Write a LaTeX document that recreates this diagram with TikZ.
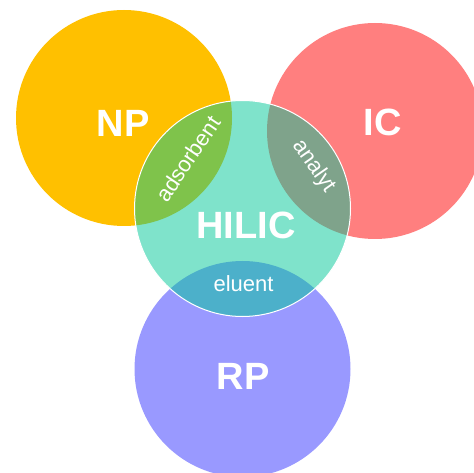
\documentclass[tikz,border=0pt]{standalone}
\usepackage{fontspec}
\setmainfont{Liberation Sans}
\usetikzlibrary{positioning}
\definecolor{cnp}{HTML}{FFC000}
\definecolor{cic}{HTML}{FF7F7F}
\definecolor{crp}{HTML}{9999FF}
\definecolor{chilic}{HTML}{00C797}
\tikzset{
  blob/.style={circle, fill=#1, draw=none, minimum size=216pt, inner sep=0pt},
  big/.style={text=white, font=\fontsize{38}{40}\selectfont\bfseries},
  small/.style={text=white, font=\fontsize{22}{24}\selectfont},
}

\begin{document}
\begin{tikzpicture}[x=1pt, y=-1pt]
  \useasboundingbox (0,0) rectangle (474,473);
  \clip (0,0) rectangle (474,473);
  % outer circles
  \node[blob=cnp] (np) at (124,118) {};
  \node[blob=cic] (ic) at (375,131) {};
  \node[blob=crp] (rp) at (242.5,369) {};
  % HILIC on top, half see-through
  \node[blob=chilic, fill opacity=0.5, draw=white, line width=1pt] (hilic) at (242.5,208.5) {};
  % labels
  \node[big] (npname) at (123,123.5) {NP};
  \node[big] (icname) at (382.5,122) {IC};
  \node[big] (hilicname) at (246,225.5) {HILIC};
  \node[big] (rpname) at (243,376) {RP};
  \node[small, anchor=base] (eluent) at (243.5,291) {eluent};
  \node[small, rotate=56] (adsorbent) at (188,159) {adsorbent};
  \node[small, rotate=-55] (analyt) at (314,166) {analyt};
\end{tikzpicture}
\end{document}
